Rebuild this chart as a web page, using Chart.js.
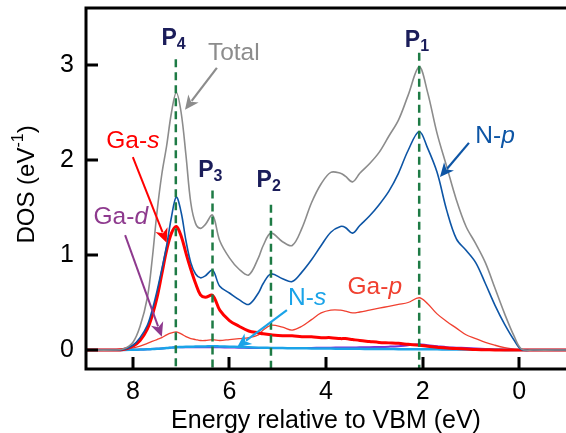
<!DOCTYPE html>
<html>
<head>
<meta charset="utf-8">
<script src="https://cdn.jsdelivr.net/npm/chart.js@4.4.1/dist/chart.umd.min.js"></script>
<style>
  html, body { margin: 0; padding: 0; background: #fff; }
</style>
</head>
<body>
<canvas id="dosChart" width="566" height="433"></canvas>
<script>
// energy grid (eV below VBM), shared by every curve
const energies = [8.97, 8.4, 8.2, 8.0, 7.85, 7.7, 7.6, 7.5, 7.4, 7.3,
  7.2, 7.1, 7.0, 6.9, 6.8, 6.7, 6.6, 6.5, 6.35, 6.2,
  6.0, 5.8, 5.6, 5.4, 5.3, 5.14, 4.9, 4.7, 4.5, 4.3,
  4.1, 3.9, 3.7, 3.6, 3.45, 3.3, 3.1, 2.9, 2.7, 2.5,
  2.3, 2.07, 1.9, 1.7, 1.5, 1.3, 1.1, 0.9, 0.7, 0.5,
  0.3, 0.1, -0.05, -0.3, -0.97];

const totalDos = [0, 0, 0.01, 0.08, 0.25, 0.55, 0.95, 1.45, 1.85, 2.15,
  2.5, 2.71, 2.5, 2.05, 1.55, 1.33, 1.28, 1.32, 1.42, 1.15,
  0.97, 0.85, 0.79, 0.97, 1.1, 1.23, 1.14, 1.1, 1.28, 1.55,
  1.75, 1.87, 1.86, 1.83, 1.77, 1.86, 1.96, 2.08, 2.25, 2.42,
  2.68, 2.98, 2.72, 2.28, 1.93, 1.58, 1.3, 1.12, 0.92, 0.65,
  0.38, 0.14, 0.01, 0, 0];

const nPDos = [0, 0, 0.005, 0.05, 0.13, 0.26, 0.42, 0.62, 0.85, 1.1,
  1.4, 1.61, 1.45, 1.15, 0.92, 0.8, 0.76, 0.78, 0.84, 0.67,
  0.6, 0.53, 0.48, 0.6, 0.7, 0.8, 0.75, 0.72, 0.82, 0.95,
  1.1, 1.24, 1.3, 1.29, 1.23, 1.31, 1.41, 1.53, 1.67, 1.86,
  2.1, 2.3, 2.13, 1.87, 1.47, 1.17, 1.05, 0.92, 0.7, 0.47,
  0.27, 0.1, 0.005, 0, 0];

const gaSDos = [0, 0, 0.005, 0.04, 0.1, 0.22, 0.36, 0.55, 0.8, 1.05,
  1.23, 1.3, 1.2, 1.02, 0.85, 0.7, 0.58, 0.555, 0.575, 0.42,
  0.31, 0.25, 0.2, 0.18, 0.17, 0.16, 0.15, 0.15, 0.14, 0.14,
  0.13, 0.13, 0.12, 0.12, 0.11, 0.1, 0.09, 0.08, 0.075, 0.07,
  0.06, 0.05, 0.04, 0.03, 0.02, 0.015, 0.01, 0.005, 0.003, 0,
  0, 0, 0, 0, 0];

const gaPDos = [0, 0, 0.005, 0.02, 0.04, 0.07, 0.09, 0.11, 0.13, 0.16,
  0.18, 0.19, 0.17, 0.14, 0.12, 0.11, 0.1, 0.1, 0.11, 0.1,
  0.11, 0.12, 0.13, 0.16, 0.21, 0.26, 0.24, 0.21, 0.25, 0.32,
  0.39, 0.42, 0.42, 0.41, 0.39, 0.4, 0.42, 0.44, 0.46, 0.48,
  0.5, 0.55, 0.49, 0.38, 0.3, 0.23, 0.16, 0.12, 0.08, 0.05,
  0.025, 0.008, 0, 0, 0];

const gaDDos = [0, 0, 0, 0.002, 0.005, 0.008, 0.01, 0.013, 0.016, 0.02,
  0.025, 0.03, 0.03, 0.03, 0.03, 0.03, 0.03, 0.03, 0.03, 0.028,
  0.026, 0.024, 0.022, 0.02, 0.02, 0.02, 0.02, 0.02, 0.02, 0.022,
  0.024, 0.025, 0.026, 0.026, 0.027, 0.028, 0.03, 0.032, 0.035, 0.04,
  0.05, 0.06, 0.05, 0.04, 0.03, 0.025, 0.02, 0.015, 0.01, 0.006,
  0.003, 0.001, 0, 0, 0];

const nSDos = [0, 0, 0, 0.002, 0.004, 0.007, 0.01, 0.013, 0.016, 0.02,
  0.025, 0.03, 0.032, 0.034, 0.035, 0.036, 0.037, 0.038, 0.04, 0.038,
  0.035, 0.032, 0.028, 0.025, 0.024, 0.022, 0.02, 0.019, 0.018, 0.017,
  0.016, 0.015, 0.014, 0.014, 0.013, 0.012, 0.011, 0.01, 0.01, 0.009,
  0.009, 0.008, 0.008, 0.007, 0.006, 0.005, 0.005, 0.004, 0.003, 0.002,
  0.001, 0, 0, 0, 0];

// peak markers P1..P4
const peakNames = ['1', '2', '3', '4'];
const peakEnergies = [2.07, 5.14, 6.35, 7.11];
const peakTops = [3.13, 1.53, 1.68, 3.06];

const xTickValues = [0, 2, 4, 6, 8];
const yTickValues = [0, 1, 2, 3];
const xMin = -0.97, xMax = 8.97;
const yMin = -0.2, yMax = 3.6;

const FONT = 'Liberation Sans, Arial, sans-serif';
Chart.defaults.font.family = FONT;
Chart.defaults.color = '#000';

// annotation layout (data units)
const pLabelY = [3.19, 1.72, 1.82, 3.21];
const notes = [
  { parts: [['Total', false]], color: '#8c8c8c', at: [5.91, 3.12], from: [6.26, 2.97], to: [6.92, 2.53], w: 2.2 },
  { parts: [['Ga-', false], ['s', true]], color: '#ff0000', at: [8.0, 2.2], from: [8.0, 2.03], to: [7.3, 1.13], w: 2 },
  { parts: [['Ga-', false], ['d', true]], color: '#8e3a8e', at: [8.25, 1.4], from: [8.16, 1.21], to: [7.4, 0.14], w: 2 },
  { parts: [['N-', false], ['s', true]], color: '#1aa3e8', at: [4.39, 0.55], from: [4.81, 0.42], to: [5.84, 0.03], w: 2.2 },
  { parts: [['Ga-', false], ['p', true]], color: '#f04030', at: [2.99, 0.66] },
  { parts: [['N-', false], ['p', true]], color: '#0d55a5', at: [0.5, 2.25], from: [1.04, 2.18], to: [1.64, 1.82], w: 2.2 }
];

function toXY(values) {
  return energies.map((e, i) => ({ x: e, y: values[i] }));
}

function curve(values, color, width) {
  return {
    data: toXY(values),
    borderColor: color,
    borderWidth: width,
    pointRadius: 0,
    fill: false,
    tension: 0.35
  };
}

const peakLines = peakEnergies.map((e, i) => ({
  data: [{ x: e, y: peakTops[i] }, { x: e, y: yMin }],
  borderColor: '#1e7b45',
  borderWidth: 2.5,
  borderDash: [8, 5],
  pointRadius: 0
}));

function drawArrow(ctx, x1, y1, x2, y2, color, w) {
  const ang = Math.atan2(y2 - y1, x2 - x1);
  const hl = 14, hw = 6.5;
  const c = Math.cos(ang), s = Math.sin(ang);
  const bx = x2 - hl * c, by = y2 - hl * s;
  ctx.strokeStyle = color;
  ctx.lineWidth = w;
  ctx.beginPath();
  ctx.moveTo(x1, y1);
  ctx.lineTo(bx + 3 * c, by + 3 * s);
  ctx.stroke();
  ctx.fillStyle = color;
  ctx.beginPath();
  ctx.moveTo(x2, y2);
  ctx.lineTo(bx + hw * s, by - hw * c);
  ctx.lineTo(bx + 4 * c, by + 4 * s);
  ctx.lineTo(bx - hw * s, by + hw * c);
  ctx.closePath();
  ctx.fill();
}

function drawMixed(ctx, parts, cx, cy, color, size) {
  const fonts = parts.map(p => (p[1] ? 'italic ' : '') + size + 'px ' + FONT);
  let total = 0;
  const widths = parts.map((p, i) => { ctx.font = fonts[i]; const w = ctx.measureText(p[0]).width; total += w; return w; });
  let x = cx - total / 2;
  ctx.fillStyle = color;
  ctx.textAlign = 'left';
  ctx.textBaseline = 'middle';
  parts.forEach((p, i) => { ctx.font = fonts[i]; ctx.fillText(p[0], x, cy); x += widths[i]; });
}

const decorations = {
  id: 'decorations',
  afterDraw(chart) {
    const { ctx, chartArea: a } = chart;
    const xs = chart.scales.x, ys = chart.scales.y;
    ctx.save();

    // frame: top, left and bottom lines (no right side)
    ctx.strokeStyle = '#000';
    ctx.lineWidth = 3;
    ctx.beginPath();
    ctx.moveTo(chart.width, a.top);
    ctx.lineTo(a.left, a.top);
    ctx.lineTo(a.left, a.bottom);
    ctx.lineTo(chart.width, a.bottom);
    ctx.stroke();

    // inward ticks
    ctx.lineWidth = 3;
    ctx.beginPath();
    xTickValues.forEach(v => {
      const px = Math.round(xs.getPixelForValue(v));
      ctx.moveTo(px, a.bottom);
      ctx.lineTo(px, a.bottom - 12);
    });
    yTickValues.forEach(v => {
      const py = Math.round(ys.getPixelForValue(v));
      ctx.moveTo(a.left, py);
      ctx.lineTo(a.left + 12, py);
    });
    ctx.stroke();

    // y title with superscript
    ctx.save();
    ctx.translate(27, (a.top + a.bottom) / 2 - 4);
    ctx.rotate(-Math.PI / 2);
    ctx.fillStyle = '#000';
    ctx.textBaseline = 'middle';
    ctx.textAlign = 'left';
    const big = '24px ' + FONT, small = '16px ' + FONT;
    ctx.font = big; const w1 = ctx.measureText('DOS (eV').width; const w3 = ctx.measureText(')').width;
    ctx.font = small; const w2 = ctx.measureText('-1').width;
    let tx = -(w1 + w2 + w3) / 2;
    ctx.font = big; ctx.fillText('DOS (eV', tx, 0); tx += w1;
    ctx.font = small; ctx.fillText('-1', tx, -8); tx += w2;
    ctx.font = big; ctx.fillText(')', tx, 0);
    ctx.restore();

    // peak labels
    ctx.fillStyle = '#1b1d5a';
    ctx.textBaseline = 'alphabetic';
    peakEnergies.forEach((e, i) => {
      const px = xs.getPixelForValue(e);
      const py = ys.getPixelForValue(pLabelY[i]);
      ctx.font = 'bold 23px Liberation Sans Narrow, ' + FONT;
      ctx.textAlign = 'right';
      ctx.fillText('P', px + 1, py);
      ctx.font = 'bold 16px Liberation Sans Narrow, ' + FONT;
      ctx.textAlign = 'left';
      ctx.fillText(peakNames[i], px + 1, py + 4);
    });

    // species labels and arrows
    notes.forEach(n => {
      drawMixed(ctx, n.parts, xs.getPixelForValue(n.at[0]), ys.getPixelForValue(n.at[1]), n.color, 24.5);
      if (n.from) {
        drawArrow(ctx, xs.getPixelForValue(n.from[0]), ys.getPixelForValue(n.from[1]),
          xs.getPixelForValue(n.to[0]), ys.getPixelForValue(n.to[1]), n.color, n.w);
      }
    });
    ctx.restore();
  }
};

const ctx = document.getElementById('dosChart').getContext('2d');
new Chart(ctx, {
  type: 'line',
  data: {
    datasets: [
      ...peakLines,
      curve(totalDos, '#8c8c8c', 1.6),
      curve(nPDos, '#0d55a5', 1.6),
      curve(gaSDos, '#ff0000', 3),
      curve(nSDos, '#1aa3e8', 2.5),
      curve(gaDDos, '#7a2fd8', 2),
      curve(gaPDos, '#f04030', 1.3)
    ]
  },
  options: {
    responsive: false,
    animation: false,
    devicePixelRatio: 1,
    layout: { padding: { top: 8, right: 0, bottom: 0, left: 0 } },
    plugins: {
      legend: { display: false },
      tooltip: { enabled: false }
    },
    scales: {
      x: {
        type: 'linear',
        reverse: true,
        min: xMin,
        max: xMax,
        grid: { display: false, drawTicks: false },
        border: { display: false },
        afterBuildTicks: s => { s.ticks = xTickValues.map(v => ({ value: v })); },
        afterFit: s => { s.height = 64; s.paddingLeft = 0; s.paddingRight = 0; },
        ticks: { font: { size: 25 }, color: '#000', padding: 8, maxRotation: 0 },
        title: {
          display: true,
          text: 'Energy relative to VBM (eV)',
          font: { size: 25 },
          color: '#000',
          padding: { top: 0, bottom: -3 }
        }
      },
      y: {
        type: 'linear',
        min: yMin,
        max: yMax,
        grid: { display: false, drawTicks: false },
        border: { display: false },
        afterBuildTicks: s => { s.ticks = yTickValues.map(v => ({ value: v })); },
        afterFit: s => { s.width = 86; s.paddingTop = 0; s.paddingBottom = 0; },
        ticks: { font: { size: 25 }, color: '#000', padding: 12 }
      }
    }
  },
  plugins: [decorations]
});
</script>
</body>
</html>
